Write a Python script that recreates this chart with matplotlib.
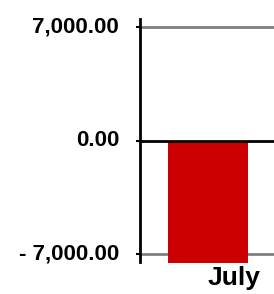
import matplotlib
matplotlib.use("Agg")
import matplotlib.pyplot as plt
import matplotlib.transforms as mtransforms

categories = ["July"]
values = [-7530]
ytick_values = [7000, 0, -7000]
ytick_labels = ["7,000.00", "0.00", "- 7,000.00"]

plt.rcParams['font.family'] = ['Liberation Sans', 'DejaVu Sans']

fig = plt.figure(figsize=(2.74, 2.94), dpi=100)
ax = fig.add_axes([140/274, 1-262/294, 134/274, 243/294])

x = list(range(len(categories)))
ax.bar(x, values, width=0.8, color="#cc0000", zorder=2, clip_on=False)

ax.set_ylim(-7470, 7520)
ax.set_xlim(-0.68, 0.66)

for v in ytick_values:
    if v == 0:
        ax.axhline(v, color="black", lw=2, zorder=3)
    else:
        ax.axhline(v, color="#808080", lw=2, zorder=1)

ax.set_yticks(ytick_values)
ax.set_yticklabels(ytick_labels, fontsize=16, fontweight="bold")
ax.tick_params(axis="y", length=3, width=1.5, pad=12, color="black")
yoff = mtransforms.ScaledTranslation(0, 3/100, fig.dpi_scale_trans)
for lab in ax.get_yticklabels():
    lab.set_transform(lab.get_transform() + yoff)

ax.set_xticks(x)
ax.set_xticklabels(categories, fontsize=19, fontweight="bold")
ax.tick_params(axis="x", length=0, pad=3)
offset = mtransforms.ScaledTranslation(26/100, 0, fig.dpi_scale_trans)
for lab in ax.get_xticklabels():
    lab.set_transform(lab.get_transform() + offset)

for side in ["top", "right", "bottom"]:
    ax.spines[side].set_visible(False)
ax.spines["left"].set_linewidth(2)

fig.savefig("out.png", dpi=100)
